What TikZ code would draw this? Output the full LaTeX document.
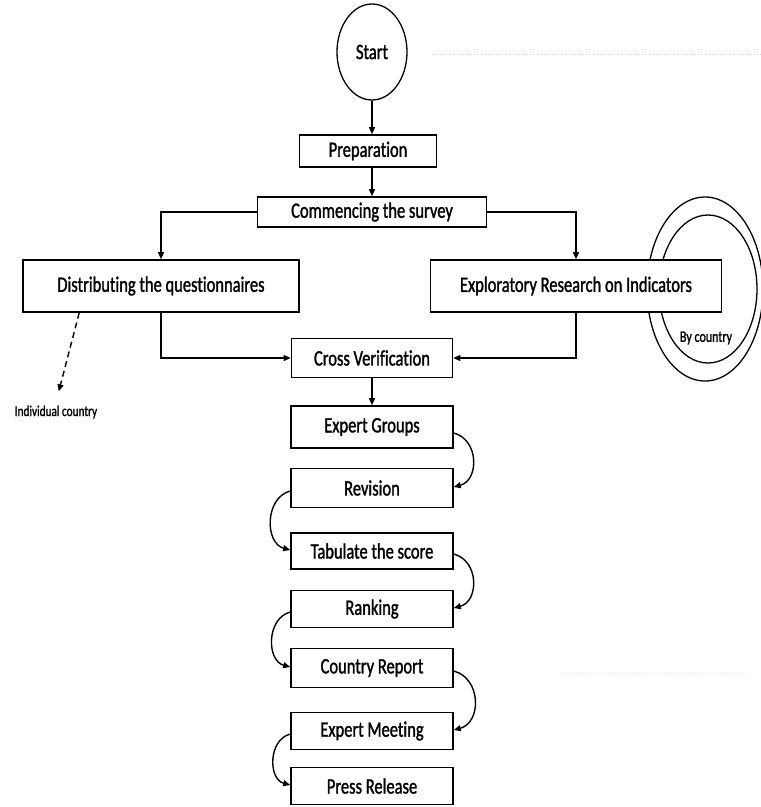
\documentclass[tikz,border=0pt]{standalone}
\usepackage{fontspec}
\setmainfont{Carlito}[FakeStretch=0.75, FakeBold=1.3, Ligatures=NoCommon]
\usetikzlibrary{shapes.geometric,arrows.meta}
\tikzset{
  stage/.style={draw, line width=1.6pt, fill=white, inner sep=0pt, font=\fontsize{22}{24}\selectfont},
  flow/.style={-{Triangle[length=7pt,width=6pt]}, line width=1.4pt},
  bendr/.style={flow, out=-15, in=15, looseness=1.25},
  bendl/.style={flow, out=195, in=165, looseness=1.15}
}
\begin{document}
\begin{tikzpicture}[x=1pt,y=-1pt]
\useasboundingbox (0,0) rectangle (761,807);
% by-country rings, behind the boxes
\draw[line width=1.3pt] (705,289) ellipse (58 and 92);
\draw[line width=1.3pt] (708,289) ellipse (49 and 74);
% faint scan marks
\draw[gray!35, dotted, line width=0.8pt] (432,54) -- (760,54);
\draw[gray!20, dotted, line width=0.8pt] (560,673) -- (750,673);

\node(start) at (372,52) [draw, ellipse, line width=1.3pt, minimum width=70, minimum height=96, font=\fontsize{22}{24}\selectfont]{Start};
\node(prep) at (368,151) [stage, minimum width=137, minimum height=32]{Preparation};
\node(comm) at (372,212) [stage, minimum width=229, minimum height=30]{Commencing the survey};
\node(dist) at (161,286) [stage, minimum width=276, minimum height=52]{Distributing the questionnaires};
\node(expl) at (576,286) [stage, minimum width=291, minimum height=52]{Exploratory Research on Indicators};
\node(cross) at (372,358) [stage, minimum width=161, minimum height=39]{Cross Verification};
\node(eg) at (372,427) [stage, minimum width=162, minimum height=42]{Expert Groups};
\node(rev) at (372,488) [stage, minimum width=162, minimum height=39]{Revision};
\node(tab) at (372,551) [stage, minimum width=162, minimum height=36]{Tabulate the score};
\node(rank) at (372,609) [stage, minimum width=162, minimum height=37]{Ranking};
\node(crep) at (372,668) [stage, minimum width=162, minimum height=39]{Country Report};
\node(emeet) at (372,731) [stage, minimum width=162, minimum height=37]{Expert Meeting};
\node(press) at (372,786) [stage, minimum width=162, minimum height=37]{Press Release};
\node(bycountry) at (706,338) [font=\fontsize{16}{18}\selectfont]{By country};
\node(indtxt) at (56,412) [font=\fontsize{15}{17}\selectfont]{Individual country};

\draw [flow] (start) -- (start |- prep.north);
\draw [flow] (prep.south -| start) -- (start |- comm.north);
\draw [flow] (comm) -| (dist);
\draw [flow] (comm) -| (expl);
\draw [flow] (dist) |- (cross);
\draw [flow] (expl) |- (cross);
\draw [flow, dash pattern=on 6pt off 4pt] ([xshift=57pt]dist.south west) -- (indtxt.north) [shorten >=11pt];
\draw [flow] (cross) -- (eg);

\draw [bendr] ([yshift=-6pt]eg.east) to ([yshift=1pt]rev.east);
\draw [bendl] ([yshift=-3pt]rev.west) to ([yshift=1pt]tab.west);
\draw [bendr] ([yshift=-3pt]tab.east) to ([yshift=1pt]rank.east);
\draw [bendl] ([yshift=-3pt]rank.west) to ([yshift=1pt]crep.west);
\draw [bendr] ([yshift=-3pt]crep.east) to ([yshift=1pt]emeet.east);
\draw [bendl] ([yshift=-3pt]emeet.west) to ([yshift=1pt]press.west);

\end{tikzpicture}
\end{document}
